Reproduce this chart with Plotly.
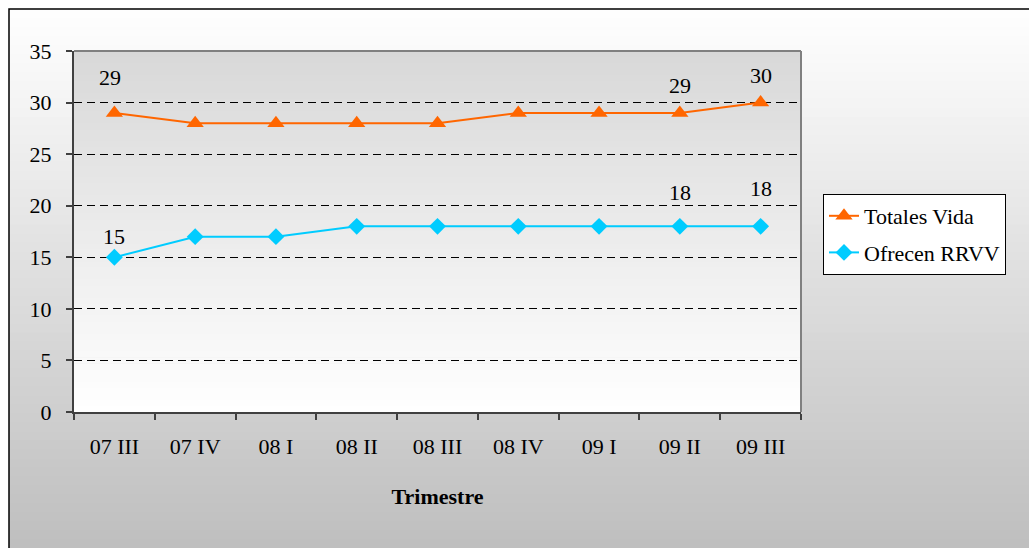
import plotly.graph_objects as go

categories = ["07 III", "07 IV", "08 I", "08 II", "08 III", "08 IV", "09 I", "09 II", "09 III"]
totales_vida = [29, 28, 28, 28, 28, 29, 29, 29, 30]
ofrecen_rrvv = [15, 17, 17, 18, 18, 18, 18, 18, 18]
# indices of points that carry a data label
labeled_totales = [0, 7, 8]
labeled_ofrecen = [0, 7, 8]
y_ticks = [0, 5, 10, 15, 20, 25, 30, 35]

W, H = 1029, 548
L, R, T, B = 74, 801, 51, 412
FONT = "Liberation Serif"
FS = 22
ORANGE = "#FF6600"
CYAN = "#00CCFF"


def px_x(x):
    return (x - L) / (R - L)


def px_y(y):
    return (B - y) / (B - T)


fig = go.Figure()
fig.add_trace(go.Scatter(
    x=categories, y=totales_vida, name="Totales Vida", mode="lines+markers",
    line=dict(color=ORANGE, width=2),
    marker=dict(symbol="triangle-up", size=15, color=ORANGE),
    legendgroup="a"))
fig.add_trace(go.Scatter(
    x=categories, y=ofrecen_rrvv, name="Ofrecen RRVV", mode="lines+markers",
    line=dict(color=CYAN, width=2),
    marker=dict(symbol="diamond", size=13, color=CYAN),
    legendgroup="b"))

shapes = []
# outer gradient (white -> grey), paper coords
n = 60
top = 9
for i in range(n):
    y0 = top + (H - top) * i / n
    y1 = top + (H - top) * (i + 1) / n + 1
    c = int(round(255 - (255 - 190) * (i + 0.5) / n))
    shapes.append(dict(type="rect", xref="paper", yref="paper",
                       x0=px_x(9), x1=px_x(W + 20),
                       y0=px_y(y1), y1=px_y(y0),
                       fillcolor=f"rgb({c},{c},{c})", line=dict(width=0), layer="below"))
# plot area gradient (grey -> white)
for i in range(n):
    y0 = i / n
    y1 = (i + 1) / n + 0.002
    c = int(round(255 - (255 - 216) * (i + 0.5) / n))
    shapes.append(dict(type="rect", xref="x domain", yref="y domain",
                       x0=0, x1=1, y0=y0, y1=min(y1, 1),
                       fillcolor=f"rgb({c},{c},{c})", line=dict(width=0), layer="below"))
# outer border
shapes.append(dict(type="rect", xref="paper", yref="paper",
                   x0=px_x(9), x1=px_x(W + 20),
                   y0=px_y(H + 20), y1=px_y(9),
                   line=dict(color="black", width=1.5), fillcolor="rgba(0,0,0,0)", layer="above"))
# top and right plot border
shapes.append(dict(type="line", xref="x domain", yref="y domain", x0=0, x1=1, y0=1, y1=1,
                   line=dict(color="#808080", width=2), layer="above"))
shapes.append(dict(type="line", xref="x domain", yref="y domain", x0=1, x1=1, y0=0, y1=1,
                   line=dict(color="#808080", width=2), layer="above"))

annotations = []
shift_t = [35, 27, 27]
shift_o = [21, 34, 38]
for k, i in enumerate(labeled_totales):
    annotations.append(dict(x=categories[i], y=totales_vida[i], text=str(totales_vida[i]),
                            showarrow=False, yshift=shift_t[k], xshift=-4 if i == 0 else 0,
                            font=dict(family=FONT, size=FS, color="black")))
for k, i in enumerate(labeled_ofrecen):
    annotations.append(dict(x=categories[i], y=ofrecen_rrvv[i], text=str(ofrecen_rrvv[i]),
                            showarrow=False, yshift=shift_o[k],
                            font=dict(family=FONT, size=FS, color="black")))

fig.update_layout(
    width=W, height=H,
    margin=dict(l=L, r=W - R, t=T, b=H - B, pad=0),
    paper_bgcolor="white",
    plot_bgcolor="rgba(0,0,0,0)",
    font=dict(family=FONT, size=FS, color="black"),
    shapes=shapes,
    annotations=annotations,
    showlegend=True,
    legend=dict(x=px_x(823), y=px_y(194), xanchor="left", yanchor="top",
                bgcolor="white", bordercolor="black", borderwidth=1,
                font=dict(family=FONT, size=FS, color="black"),
                tracegroupgap=5),
    xaxis=dict(
        type="category", range=[-0.5, 8.5], tickson="boundaries",
        ticks="outside", ticklen=6, tickcolor="#404040", tickwidth=1.5,
        showline=True, linecolor="#404040", linewidth=2,
        showgrid=False, zeroline=False, ticklabelstandoff=14,
        tickfont=dict(family=FONT, size=FS, color="black"),
        title=dict(text="<b>Trimestre</b>", standoff=30,
                   font=dict(family=FONT, size=FS, color="black")),
    ),
    yaxis=dict(
        range=[0, 35], tickvals=y_ticks, ticks="outside", ticklen=6,
        tickcolor="#404040", tickwidth=1.5,
        showline=True, linecolor="#404040", linewidth=2,
        showgrid=True, gridcolor="black", gridwidth=1, griddash="8px,5px",
        zeroline=False, ticklabelstandoff=10,
        tickfont=dict(family=FONT, size=FS, color="black"),
    ),
)

fig.write_html("out.html",
               config={"displayModeBar": False},
               post_script="document.body.style.margin='0';document.body.style.overflow='hidden';")
